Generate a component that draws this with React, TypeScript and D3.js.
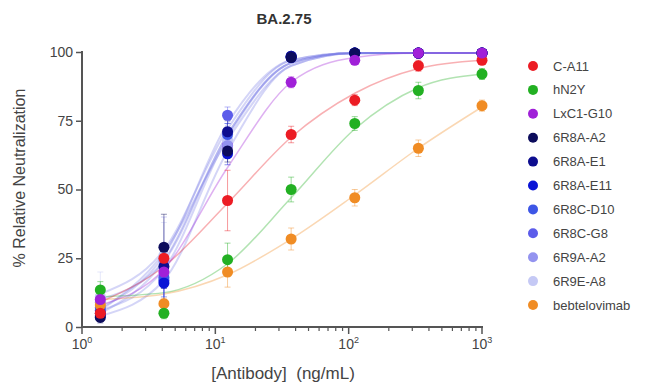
import React, { useEffect, useRef } from "react";
import * as d3 from "d3";

const CONCENTRATIONS = [1.372, 4.115, 12.35, 37.04, 111.1, 333.3, 1000];

const SERIES_NAMES = [
  "C-A11", "hN2Y", "LxC1-G10", "6R8A-A2", "6R8A-E1", "6R8A-E11",
  "6R8C-D10", "6R8C-G8", "6R9A-A2", "6R9E-A8", "bebtelovimab"
];

const SERIES_COLORS = [
  "#ec1c24", "#22b022", "#a020d8", "#0c0c5c", "#0d0d8f", "#0a14d6",
  "#3d56e6", "#5c5cea", "#9393ef", "#c5c9f5", "#f08c24"
];

// mean % neutralization at each concentration
const MEANS = [
  [5, 25, 46, 70, 82.5, 95, 97],
  [13.5, 5, 24.5, 50, 74, 86, 92],
  [10, 20, 66, 89, 97, 99.6, 99.6],
  [3.5, 29, 64, 98, 99.6, 99.6, 99.6],
  [5, 22, 71, 98.5, 99.6, 99.6, 99.6],
  [4, 16, 63, 98, 99.6, 99.6, 99.6],
  [6, 18, 70, 98.5, 99.6, 99.6, 99.6],
  [7, 17, 77, 98, 99.6, 99.6, 99.6],
  [9, 24, 66, 98.5, 99.6, 99.6, 99.6],
  [11, 26, 68, 98, 99.6, 99.6, 99.6],
  [8, 8.5, 20, 32, 47, 65, 80.5]
];

// error bar half-heights (SD)
const ERRORS = [
  [3, 4, 11, 3, 2, 2, 1.5],
  [3, 2, 6, 4.5, 2.5, 3, 2],
  [3, 5, 4, 2, 1.5, 0.5, 0.5],
  [2, 12, 4, 1, 0.5, 0.5, 0.5],
  [2, 8, 4, 1, 0.5, 0.5, 0.5],
  [2, 6, 4, 1, 0.5, 0.5, 0.5],
  [3, 7, 4, 1, 0.5, 0.5, 0.5],
  [3, 9, 3, 1, 0.5, 0.5, 0.5],
  [6, 16, 4, 1, 0.5, 0.5, 0.5],
  [9, 12, 4, 1, 0.5, 0.5, 0.5],
  [2, 2, 5.5, 4, 3, 3, 2]
];

// fitted curve height at each concentration
const FITS = [
  [9, 22, 45, 69, 85, 94, 97],
  [11, 12.5, 23, 47, 72, 87, 92],
  [8, 21, 58, 89, 98, 99.6, 99.6],
  [6, 27, 68, 95, 99.5, 99.6, 99.6],
  [5, 24, 70, 96, 99.6, 99.6, 99.6],
  [4, 17, 64, 95, 99.5, 99.6, 99.6],
  [6, 21, 69, 96, 99.6, 99.6, 99.6],
  [7, 26, 74, 97, 99.6, 99.6, 99.6],
  [10, 24, 70, 96, 99.6, 99.6, 99.6],
  [12, 28, 72, 97, 99.6, 99.6, 99.6],
  [10, 12, 19, 32, 48, 65, 80]
];

const Y_TICKS = [0, 25, 50, 75, 100];
const X_DECADES = [1, 10, 100, 1000];
const DRAW_ORDER = [9, 8, 7, 6, 5, 4, 3, 10, 1, 0, 2];
// at 12 ng/mL LxC1-G10 sits behind the 6R antibodies
const HIDDEN_ORDER = [2, 9, 8, 7, 6, 5, 4, 3, 10, 1, 0];

const AXIS_COLOR = "#555";
const TEXT_COLOR = "#444";
const FONT = "Liberation Sans, Arial, sans-serif";

const App: React.FC = () => {
  const ref = useRef<SVGSVGElement>(null);

  useEffect(() => {
    document.body.style.margin = "0";
    if (!ref.current) return;
    const svg = d3.select(ref.current);
    svg.selectAll("*").remove();

    const x = d3.scaleLog().domain([1, 1000]).range([82, 482]);
    const y = d3.scaleLinear().domain([0, 100]).range([327, 52]);

    const line = d3
      .line<number>()
      .x((_d: number, i: number) => x(CONCENTRATIONS[i]))
      .y((d: number) => y(d))
      .curve(d3.curveMonotoneX);

    // fitted curves
    const curves = svg.append("g");
    DRAW_ORDER.forEach((s) => {
      const isBlue = s >= 3 && s <= 9;
      curves
        .append("path")
        .attr("d", line(FITS[s]))
        .attr("fill", "none")
        .attr("stroke", isBlue ? "#6f73e6" : SERIES_COLORS[s])
        .attr("stroke-width", isBlue ? 2 : 1.5)
        .attr("stroke-opacity", isBlue ? 0.3 : 0.35);
    });

    // error bars
    const errs = svg.append("g");
    DRAW_ORDER.forEach((s) => {
      CONCENTRATIONS.forEach((c, i) => {
        const cx = x(c);
        const top = y(MEANS[s][i] + ERRORS[s][i]);
        const bot = y(MEANS[s][i] - ERRORS[s][i]);
        const g = errs
          .append("g")
          .attr("stroke", SERIES_COLORS[s])
          .attr("stroke-opacity", 0.45)
          .attr("stroke-width", 1);
        g.append("line").attr("x1", cx).attr("x2", cx).attr("y1", top).attr("y2", bot);
        g.append("line").attr("x1", cx - 3).attr("x2", cx + 3).attr("y1", top).attr("y2", top);
        g.append("line").attr("x1", cx - 3).attr("x2", cx + 3).attr("y1", bot).attr("y2", bot);
      });
    });

    // points, one concentration column at a time
    const pts = svg.append("g");
    CONCENTRATIONS.forEach((c, i) => {
      const order = i === 2 ? HIDDEN_ORDER : DRAW_ORDER;
      order.forEach((s) => {
        pts
          .append("circle")
          .attr("cx", x(c))
          .attr("cy", y(MEANS[s][i]))
          .attr("r", 5.5)
          .attr("fill", SERIES_COLORS[s]);
      });
    });

    // y axis
    const yAxis = svg
      .append("g")
      .attr("transform", "translate(82,0)")
      .call(d3.axisLeft(y).tickValues(Y_TICKS).tickSize(6).tickPadding(3));
    yAxis.select(".domain").attr("stroke", AXIS_COLOR).attr("stroke-width", 2).attr("d", "M0,51V328");
    yAxis.selectAll(".tick line").attr("stroke", AXIS_COLOR).attr("stroke-width", 1.5);
    yAxis
      .selectAll(".tick text")
      .attr("fill", TEXT_COLOR)
      .style("font-family", FONT)
      .style("font-size", "14px");

    // x axis
    const xAxis = svg.append("g").attr("transform", "translate(0,327)");
    xAxis
      .append("line")
      .attr("x1", 81)
      .attr("x2", 483)
      .attr("stroke", AXIS_COLOR)
      .attr("stroke-width", 2);
    const minor = x.ticks().filter((t: number) => !X_DECADES.includes(t));
    xAxis
      .selectAll("line.minor")
      .data(minor)
      .enter()
      .append("line")
      .attr("class", "minor")
      .attr("x1", (d: number) => x(d))
      .attr("x2", (d: number) => x(d))
      .attr("y1", 0)
      .attr("y2", 4)
      .attr("stroke", AXIS_COLOR)
      .attr("stroke-width", 1.2);
    xAxis
      .selectAll("line.major")
      .data(X_DECADES)
      .enter()
      .append("line")
      .attr("class", "major")
      .attr("x1", (d: number) => x(d))
      .attr("x2", (d: number) => x(d))
      .attr("y1", 0)
      .attr("y2", 7)
      .attr("stroke", AXIS_COLOR)
      .attr("stroke-width", 1.5);
    const xl = xAxis
      .selectAll("text.xl")
      .data(X_DECADES)
      .enter()
      .append("text")
      .attr("class", "xl")
      .attr("x", (d: number) => x(d))
      .attr("y", 22)
      .attr("text-anchor", "middle")
      .attr("fill", TEXT_COLOR)
      .style("font-family", FONT)
      .style("font-size", "14px");
    xl.append("tspan").text("10");
    xl.append("tspan")
      .attr("dy", -6)
      .style("font-size", "9px")
      .text((d: number) => String(Math.round(Math.log10(d))));

    // title
    svg
      .append("text")
      .attr("x", 284)
      .attr("y", 24)
      .attr("text-anchor", "middle")
      .attr("fill", "#333")
      .style("font-family", FONT)
      .style("font-weight", "bold")
      .style("font-size", "15px")
      .text("BA.2.75");

    // axis titles
    svg
      .append("text")
      .attr("transform", "translate(25,178) rotate(-90)")
      .attr("text-anchor", "middle")
      .attr("fill", TEXT_COLOR)
      .style("font-family", FONT)
      .style("font-size", "16px")
      .text("% Relative Neutralization");

    svg
      .append("text")
      .attr("x", 283)
      .attr("y", 379)
      .attr("text-anchor", "middle")
      .attr("fill", TEXT_COLOR)
      .style("font-family", FONT)
      .style("font-size", "17px")
      .style("white-space", "pre")
      .text("[Antibody]  (ng/mL)");

    // legend
    const legend = svg.append("g");
    SERIES_NAMES.forEach((name, i) => {
      const ly = 66 + i * 23.9;
      legend.append("circle").attr("cx", 533).attr("cy", ly).attr("r", 5).attr("fill", SERIES_COLORS[i]);
      legend
        .append("text")
        .attr("x", 553)
        .attr("y", ly + 4.5)
        .attr("fill", TEXT_COLOR)
        .style("font-family", FONT)
        .style("font-size", "13px")
        .text(name);
    });
  }, []);

  return <svg ref={ref} width={646} height={387} style={{ display: "block" }} />;
};

export default App;
